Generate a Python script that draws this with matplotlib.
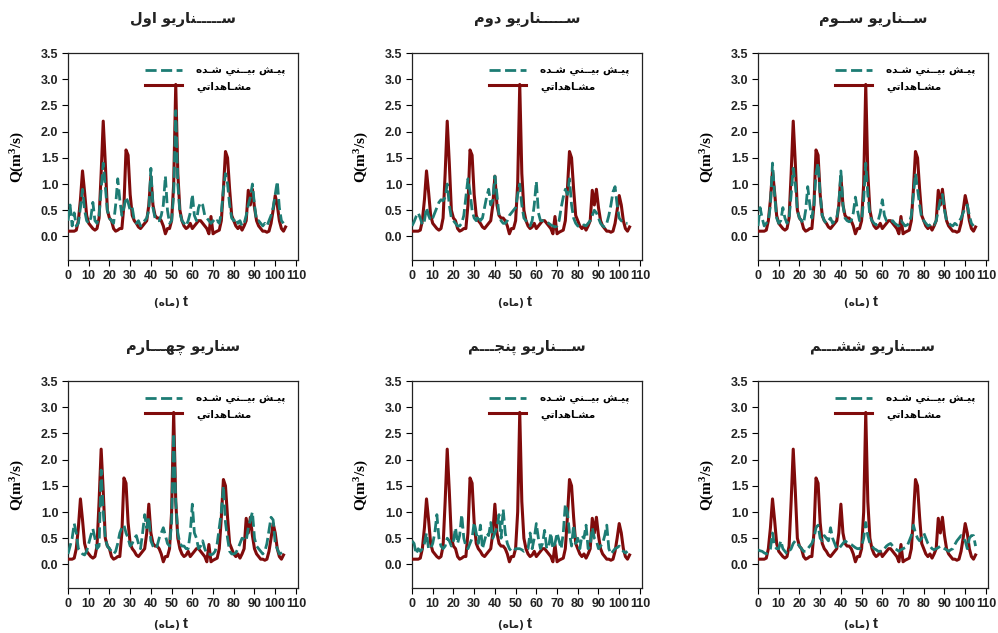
import numpy as np
import matplotlib
matplotlib.use('Agg')
import matplotlib.pyplot as plt
from matplotlib.ticker import FormatStrFormatter

plt.rcParams['mathtext.fontset'] = 'custom'
plt.rcParams['mathtext.rm'] = 'Liberation Serif:bold'
plt.rcParams['mathtext.default'] = 'rm'

# ---------------- data ----------------
obs = [0.10, 0.10, 0.10, 0.10, 0.12, 0.30, 0.70, 1.25, 0.85, 0.40,
       0.25, 0.20, 0.15, 0.12, 0.15, 0.35, 1.20, 2.20, 1.40, 0.50,
       0.35, 0.30, 0.15, 0.10, 0.12, 0.15, 0.15, 0.60, 1.65, 1.55,
       0.80, 0.40, 0.30, 0.25, 0.18, 0.15, 0.20, 0.25, 0.30, 0.60,
       1.15, 0.60, 0.40, 0.35, 0.35, 0.30, 0.20, 0.05, 0.15, 0.15,
       0.30, 1.00, 2.90, 1.20, 0.50, 0.30, 0.20, 0.15, 0.18, 0.25,
       0.15, 0.20, 0.25, 0.30, 0.30, 0.25, 0.20, 0.15, 0.05, 0.38,
       0.05, 0.08, 0.10, 0.12, 0.30, 0.90, 1.62, 1.50, 0.90, 0.40,
       0.30, 0.20, 0.15, 0.20, 0.12, 0.20, 0.30, 0.88, 0.60, 0.90,
       0.55, 0.30, 0.20, 0.15, 0.10, 0.10, 0.08, 0.10, 0.25, 0.50,
       0.78, 0.60, 0.30, 0.15, 0.10, 0.18]

pred_s1 = [0.30, 0.60, 0.20, 0.45, 0.20, 0.25, 0.55, 0.90, 0.50, 0.30,
           0.25, 0.35, 0.65, 0.30, 0.25, 0.40, 0.90, 1.40, 0.95, 0.50,
           0.35, 0.30, 0.25, 0.60, 1.10, 0.70, 0.40, 0.55, 0.75, 0.65,
           0.50, 0.55, 0.30, 0.25, 0.30, 0.20, 0.25, 0.30, 0.35, 0.50,
           1.30, 0.55, 0.35, 0.30, 0.30, 0.40, 0.60, 1.15, 0.50, 0.25,
           0.30, 0.80, 2.40, 1.00, 0.45, 0.30, 0.25, 0.20, 0.30, 0.45,
           0.80, 0.40, 0.30, 0.55, 0.65, 0.60, 0.40, 0.35, 0.30, 0.25,
           0.30, 0.25, 0.30, 0.25, 0.45, 0.90, 1.20, 1.00, 0.60, 0.35,
           0.30, 0.35, 0.25, 0.30, 0.20, 0.25, 0.40, 0.60, 0.75, 1.00,
           0.60, 0.30, 0.30, 0.25, 0.20, 0.25, 0.20, 0.30, 0.40, 0.55,
           0.80, 1.05, 0.55, 0.30, 0.25]

pred_s2 = [0.20, 0.28, 0.38, 0.45, 0.35, 0.22, 0.30, 0.55, 0.40, 0.30,
           0.35, 0.45, 0.55, 0.65, 0.70, 0.68, 0.75, 1.00, 0.60, 0.35,
           0.30, 0.25, 0.20, 0.20, 0.25, 0.40, 0.75, 1.10, 0.85, 0.50,
           0.35, 0.30, 0.40, 0.30, 0.35, 0.55, 0.75, 0.90, 0.60, 0.70,
           1.15, 0.80, 0.40, 0.30, 0.25, 0.25, 0.30, 0.40, 0.45, 0.50,
           0.55, 0.80, 1.00, 0.60, 0.35, 0.30, 0.25, 0.20, 0.30, 0.60,
           1.05, 0.45, 0.30, 0.30, 0.30, 0.28, 0.25, 0.22, 0.20, 0.18,
           0.20, 0.30, 0.55, 0.75, 0.90, 0.80, 1.10, 0.60, 0.35, 0.25,
           0.20, 0.18, 0.20, 0.22, 0.20, 0.25, 0.30, 0.40, 0.50, 0.45,
           0.35, 0.25, 0.20, 0.18, 0.25, 0.40, 0.60, 0.85, 0.95, 0.60,
           0.35, 0.30, 0.28, 0.25, 0.25]

pred_s3 = [0.20, 0.55, 0.35, 0.20, 0.25, 0.30, 0.60, 1.40, 0.80, 0.35,
           0.25, 0.30, 0.55, 0.35, 0.25, 0.35, 0.80, 1.30, 1.00, 0.50,
           0.35, 0.30, 0.25, 0.50, 0.95, 0.60, 0.35, 0.60, 1.20, 1.40,
           0.80, 0.40, 0.30, 0.25, 0.30, 0.35, 0.25, 0.30, 0.35, 0.60,
           1.25, 0.60, 0.35, 0.30, 0.28, 0.30, 0.45, 0.75, 0.50, 0.30,
           0.30, 0.70, 1.40, 0.80, 0.40, 0.30, 0.25, 0.22, 0.30, 0.45,
           0.70, 0.40, 0.30, 0.30, 0.28, 0.30, 0.25, 0.22, 0.20, 0.30,
           0.25, 0.20, 0.22, 0.25, 0.40, 0.80, 1.20, 0.90, 0.60, 0.35,
           0.30, 0.25, 0.20, 0.22, 0.25, 0.22, 0.30, 0.50, 0.70, 0.80,
           0.50, 0.30, 0.25, 0.22, 0.20, 0.25, 0.22, 0.28, 0.35, 0.45,
           0.55, 0.60, 0.40, 0.25, 0.20]

pred_s4 = [0.20, 0.35, 0.50, 0.78, 0.60, 0.30, 0.25, 0.20, 0.18, 0.25,
           0.40, 0.55, 0.68, 0.50, 0.30, 0.35, 1.80, 1.00, 0.50, 0.35,
           0.30, 0.25, 0.20, 0.25, 0.40, 0.60, 0.70, 0.75, 0.60, 0.50,
           0.35, 0.40, 0.50, 0.55, 0.40, 0.30, 0.60, 0.95, 0.70, 0.90,
           0.45, 0.35, 0.30, 0.35, 0.50, 0.60, 0.70, 0.55, 0.40, 0.35,
           0.80, 2.50, 1.20, 0.60, 0.40, 0.35, 0.35, 0.30, 0.30, 0.60,
           1.15, 0.60, 0.50, 0.30, 0.35, 0.45, 0.30, 0.20, 0.20, 0.18,
           0.20, 0.25, 0.40, 0.70, 1.00, 1.50, 0.80, 0.50, 0.25, 0.20,
           0.20, 0.22, 0.30, 0.40, 0.50, 0.48, 0.45, 0.70, 0.85, 1.00,
           0.50, 0.35, 0.30, 0.25, 0.20, 0.25, 0.40, 0.65, 0.90, 0.85,
           0.40, 0.30, 0.20, 0.22, 0.25]

pred_s5 = [0.45, 0.40, 0.20, 0.30, 0.25, 0.30, 0.40, 0.60, 0.30, 0.30,
           0.40, 0.60, 0.95, 0.50, 0.35, 0.30, 0.35, 0.50, 0.45, 0.35,
           0.45, 0.70, 0.40, 0.55, 0.95, 0.50, 0.35, 0.30, 0.40, 0.50,
           0.80, 0.60, 0.40, 0.75, 0.30, 0.45, 0.60, 0.55, 0.80, 0.50,
           0.60, 0.70, 0.95, 0.50, 1.05, 0.60, 0.40, 0.30, 0.25, 0.25,
           0.30, 0.30, 0.30, 0.28, 0.25, 0.28, 0.30, 0.60, 0.30, 0.50,
           0.78, 0.50, 0.30, 0.40, 0.65, 0.30, 0.35, 0.60, 0.30, 0.40,
           0.60, 0.45, 0.30, 0.60, 1.15, 1.00, 0.60, 0.35, 0.75, 0.40,
           0.50, 0.30, 0.55, 0.50, 0.75, 0.30, 0.35, 0.70, 0.50, 0.45,
           0.30, 0.35, 0.40, 0.55, 0.75, 0.30, 0.20, 0.25, 0.30, 0.32,
           0.35, 0.30, 0.25, 0.22, 0.25]

pred_s6 = [0.28, 0.26, 0.25, 0.22, 0.20, 0.25, 0.30, 0.60, 0.35, 0.30,
           0.30, 0.45, 0.30, 0.25, 0.20, 0.25, 0.30, 0.40, 0.45, 0.40,
           0.35, 0.30, 0.25, 0.25, 0.30, 0.35, 0.40, 0.50, 0.70, 0.75,
           0.50, 0.45, 0.55, 0.50, 0.45, 0.70, 0.50, 0.40, 0.30, 0.30,
           0.35, 0.40, 0.45, 0.42, 0.40, 0.38, 0.35, 0.32, 0.30, 0.30,
           0.35, 0.50, 0.80, 0.55, 0.40, 0.35, 0.30, 0.28, 0.25, 0.25,
           0.25, 0.30, 0.35, 0.38, 0.40, 0.35, 0.30, 0.28, 0.25, 0.28,
           0.30, 0.32, 0.35, 0.45, 0.55, 0.75, 0.60, 0.50, 0.45, 0.50,
           0.60, 0.50, 0.40, 0.35, 0.30, 0.28, 0.30, 0.32, 0.35, 0.32,
           0.30, 0.28, 0.25, 0.28, 0.30, 0.38, 0.45, 0.50, 0.55, 0.50,
           0.45, 0.30, 0.50, 0.55, 0.55, 0.35]

preds = [pred_s1, pred_s2, pred_s3, pred_s4, pred_s5, pred_s6]
obs_shift = [0, 0, 0, 1, 0, 0]   # scenario 4 observed series starts one month later

titles_fa = ["ســـــناریو اول", "ســـــناریو دوم", "ســناریو ســوم",
             "سناریو چهـــارم", "ســـناریو پنجـــم", "ســـناریو ششـــم"]
legend_pred_fa = "پیـش بیــني شـده"
legend_obs_fa = "مشـاهداتي"
month_fa = "ماه"
x_ticks = list(range(0, 111, 10))
y_ticks = [0.0, 0.5, 1.0, 1.5, 2.0, 2.5, 3.0, 3.5]

# ---------------- simple Persian shaper ----------------
TATWEEL = '\u0640'
FORMS = {  # isolated, final, initial, medial
    'ا': ('\uFE8D', '\uFE8E', None, None),
    'د': ('\uFEA9', '\uFEAA', None, None),
    'ر': ('\uFEAD', '\uFEAE', None, None),
    'و': ('\uFEED', '\uFEEE', None, None),
    'ب': ('\uFE8F', '\uFE90', '\uFE91', '\uFE92'),
    'ت': ('\uFE95', '\uFE96', '\uFE97', '\uFE98'),
    'ج': ('\uFE9D', '\uFE9E', '\uFE9F', '\uFEA0'),
    'چ': ('\uFB7A', '\uFB7B', '\uFB7C', '\uFB7D'),
    'س': ('\uFEB1', '\uFEB2', '\uFEB3', '\uFEB4'),
    'ش': ('\uFEB5', '\uFEB6', '\uFEB7', '\uFEB8'),
    'ل': ('\uFEDD', '\uFEDE', '\uFEDF', '\uFEE0'),
    'م': ('\uFEE1', '\uFEE2', '\uFEE3', '\uFEE4'),
    'ن': ('\uFEE5', '\uFEE6', '\uFEE7', '\uFEE8'),
    'ه': ('\uFEE9', '\uFEEA', '\uFEEB', '\uFEEC'),
    'ي': ('\uFEF1', '\uFEF2', '\uFEF3', '\uFEF4'),
    'ی': ('\uFBFC', '\uFBFD', '\uFBFE', '\uFBFF'),
    'پ': ('\uFB56', '\uFB57', '\uFB58', '\uFB59'),
}


def _dual(c):
    return c == TATWEEL or (c in FORMS and FORMS[c][2] is not None)


def _arabic(c):
    return c == TATWEEL or c in FORMS


def shape(s):
    out = []
    for i, c in enumerate(s):
        if c not in FORMS:
            out.append(c)
            continue
        jp = i > 0 and _dual(s[i - 1])
        jn = _dual(c) and i + 1 < len(s) and _arabic(s[i + 1])
        iso, fin, ini, med = FORMS[c]
        if jp and jn:
            out.append(med)
        elif jp:
            out.append(fin)
        elif jn:
            out.append(ini)
        else:
            out.append(iso)
    return ''.join(reversed(out))


# ---------------- figure ----------------
W, H = 998, 633
fig = plt.figure(figsize=(W / 100, H / 100), dpi=100)

lefts = [68, 412, 758]
tops = [53, 381]
aw, ah = 230, 207
xlabel_y = [-0.205, -0.175]

OBS_C = '#800b0b'
PRED_C = '#1d7c74'
ARFONT = 'DejaVu Sans'

for k in range(6):
    r, c = divmod(k, 3)
    rect = [lefts[c] / W, 1 - (tops[r] + ah) / H, aw / W, ah / H]
    ax = fig.add_axes(rect)

    s = obs_shift[k]
    ov = np.array(obs[s:])
    ox = np.arange(len(ov))
    pv = np.array(preds[k])
    px = np.arange(len(pv))

    ax.plot(ox, ov, color=OBS_C, lw=2.2, solid_joinstyle='round',
            label=shape(legend_obs_fa), zorder=3)
    ax.plot(px, pv, color=PRED_C, lw=2.0, ls=(0, (4.0, 1.6)),
            label=shape(legend_pred_fa), zorder=4)

    ax.set_xlim(0, 111)
    ax.set_ylim(-0.45, 3.5)
    ax.set_xticks(x_ticks)
    ax.set_yticks(y_ticks)
    ax.yaxis.set_major_formatter(FormatStrFormatter('%.1f'))
    ax.tick_params(direction='out', length=4, width=0.8, labelsize=9,
                   top=False, right=False, pad=3)
    for lab in ax.get_xticklabels() + ax.get_yticklabels():
        lab.set_fontweight('bold')
        lab.set_fontfamily('Liberation Sans')
        lab.set_color('#222222')
    for sp in ax.spines.values():
        sp.set_linewidth(0.9)
        sp.set_color('#222222')

    ax.set_ylabel('Q(m$^{3}$/s)', fontfamily='Liberation Serif',
                  fontweight='bold', fontsize=11)
    ax.yaxis.set_label_coords(-0.18, 0.5)

    ax.text(0.5, 1.16, shape(titles_fa[k]), transform=ax.transAxes,
            ha='center', va='center', fontsize=10.5, fontweight='bold',
            fontfamily=ARFONT, color='#222222')

    ax.text(0.5, xlabel_y[r] - 0.005, '(' + shape(month_fa) + ') ',
            transform=ax.transAxes, ha='right', va='center', fontsize=7.5,
            fontweight='bold', fontfamily=ARFONT, color='#222222')
    ax.text(0.5, xlabel_y[r], 't', transform=ax.transAxes,
            ha='left', va='center', fontsize=11, fontweight='bold',
            fontfamily='Liberation Sans', color='#222222')

    h, l = ax.get_legend_handles_labels()
    ax.legend([h[1], h[0]], [l[1], l[0]], loc='upper right',
              bbox_to_anchor=(0.985, 0.985), frameon=False,
              handlelength=3.6, handletextpad=1.3, labelspacing=0.45,
              prop={'family': ARFONT, 'weight': 'bold', 'size': 7.5})

fig.savefig('out.png', dpi=100)
